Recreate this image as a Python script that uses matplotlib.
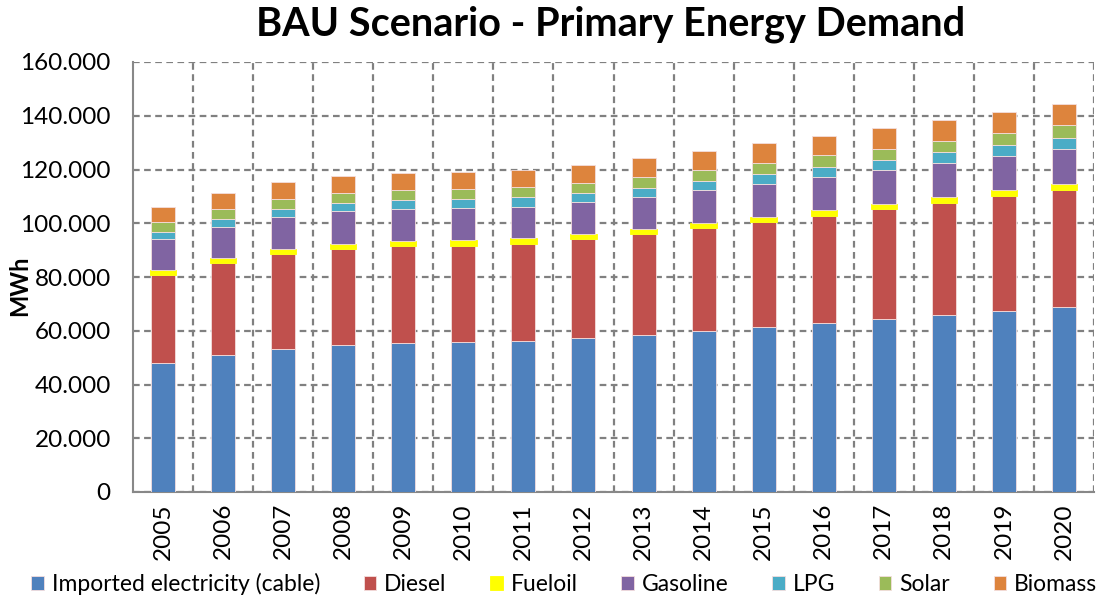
import numpy as np
import matplotlib.pyplot as plt
from matplotlib.ticker import FuncFormatter

plt.rcParams['font.family'] = ['Lato', 'DejaVu Sans']

years = [str(y) for y in range(2005, 2021)]

# values in MWh (thousands)
electricity = [48.1, 51.1, 53.3, 54.7, 55.4, 55.9, 56.3, 57.2, 58.4, 59.8, 61.3, 62.8, 64.2, 65.7, 67.3, 69.0]
diesel = [32.5, 34.0, 35.3, 35.8, 36.1, 35.8, 36.1, 36.8, 37.6, 38.4, 39.0, 39.9, 41.0, 41.8, 42.7, 43.5]
fueloil = [2.0, 1.9, 1.7, 1.8, 2.0, 2.1, 2.0, 1.9, 1.9, 2.0, 2.0, 2.1, 2.0, 2.3, 2.3, 2.2]
gasoline = [11.5, 11.7, 12.1, 12.1, 11.9, 12.0, 11.8, 11.9, 12.0, 12.1, 12.4, 12.5, 12.6, 12.5, 12.7, 12.9]
lpg = [2.8, 2.9, 3.0, 3.2, 3.4, 3.1, 3.5, 3.5, 3.3, 3.5, 3.7, 3.7, 3.9, 4.1, 4.0, 4.2]
solar = [3.4, 3.6, 3.5, 3.5, 3.7, 3.7, 3.7, 3.7, 3.9, 4.0, 4.1, 4.3, 4.0, 4.2, 4.5, 4.8]
biomass = [5.6, 5.9, 6.4, 6.5, 6.3, 6.5, 6.4, 6.7, 7.1, 7.0, 7.2, 7.3, 7.6, 7.8, 7.9, 7.8]

series = [
    ("Imported electricity (cable)", electricity, "#4f81bd"),
    ("Diesel", diesel, "#c0504d"),
    ("Fueloil", fueloil, "#ffff00"),
    ("Gasoline", gasoline, "#8064a2"),
    ("LPG", lpg, "#4bacc6"),
    ("Solar", solar, "#9bbb59"),
    ("Biomass", biomass, "#dd843d"),
]

fig = plt.figure(figsize=(11.04, 5.99), dpi=100)
ax = fig.add_axes([133 / 1104, 1 - 492 / 599, (1094 - 133) / 1104, (492 - 62) / 599])

x = np.arange(len(years))
bottom = np.zeros(len(years))
for name, vals, color in series:
    v = np.array(vals) * 1000
    # yellow band is drawn a bit wider, as in the original
    w = 0.44 if name == "Fueloil" else 0.4
    ax.bar(x, v, w, bottom=bottom, color=color, label=name,
           edgecolor="#f4dede" if name != "Fueloil" else color,
           linewidth=0.6, zorder=3)
    bottom += v

ax.set_xlim(-0.5, len(years) - 0.5)
ax.set_ylim(0, 160000)
ax.set_yticks(np.arange(0, 160001, 20000))
ax.yaxis.set_major_formatter(FuncFormatter(
    lambda v, p: "0" if v == 0 else f"{int(v):,}".replace(",", ".")))
ax.set_xticks(x)
ax.set_xticklabels(years, rotation=90)
ax.tick_params(axis="both", labelsize=17.5, length=0)
ax.tick_params(axis="y", pad=16)
ax.tick_params(axis="x", pad=8)

ax.grid(axis="y", color="#808080", linestyle=(0, (3, 2)), linewidth=1.6, zorder=0)
for b in np.arange(0.5, len(years), 1.0):
    ax.axvline(b, color="#808080", linestyle=(0, (3, 2)), linewidth=1.6, zorder=0)

for s in ["top", "right"]:
    ax.spines[s].set_visible(False)
for s in ["left", "bottom"]:
    ax.spines[s].set_color("#888888")
    ax.spines[s].set_linewidth(1.5)

ax.set_ylabel("MWh", fontsize=17, fontweight="bold")
ax.yaxis.set_label_coords(-0.106, 0.48)
fig.suptitle("BAU Scenario - Primary Energy Demand", fontsize=28.5,
             fontweight="bold", x=0.553, y=0.99)

fig.legend(loc="lower center", ncol=7, fontsize=16.5, frameon=False,
           bbox_to_anchor=(0.511, -0.028), handlelength=0.55, handleheight=0.55,
           handletextpad=0.35, columnspacing=1.9)

fig.savefig("out.png", dpi=100)
